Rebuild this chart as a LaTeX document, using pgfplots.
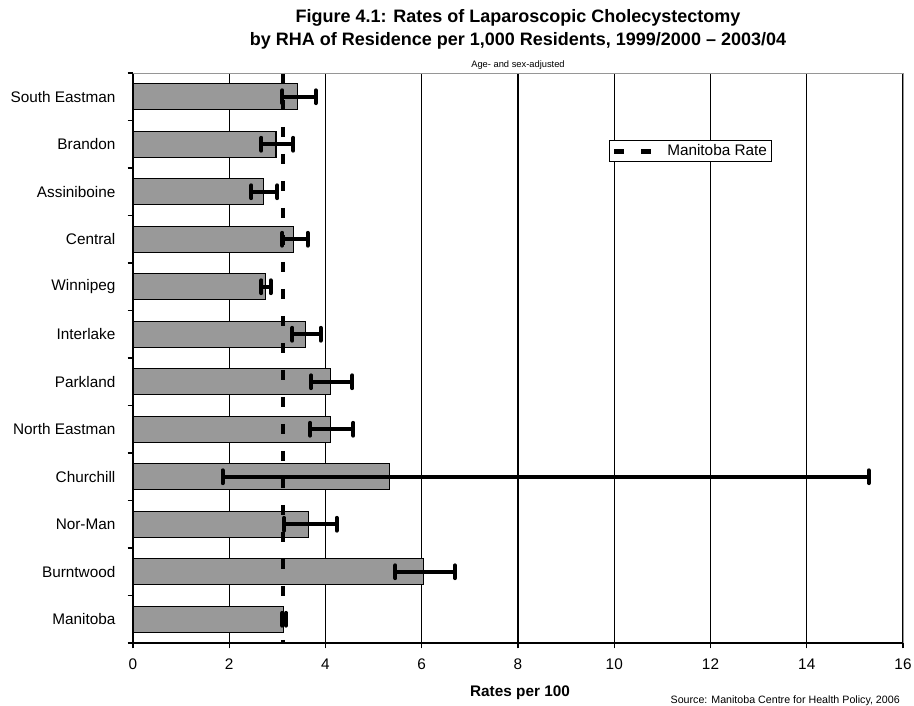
\documentclass[border=0pt]{standalone}
\usepackage{fontspec}
\setmainfont{Liberation Sans}
\usepackage{pgfplots}
\pgfplotsset{compat=1.18}
\usepackage{pgfplotstable}
\definecolor{bargray}{RGB}{153,153,153}
\definecolor{framegray}{RGB}{150,150,150}

\pgfplotstableread{
y x em ep
11 3.41 0.31 0.39
10 2.97 0.30 0.36
9 2.72 0.26 0.28
8 3.34 0.24 0.29
7 2.76 0.09 0.10
6 3.59 0.28 0.31
5 4.11 0.41 0.45
4 4.10 0.42 0.48
3 5.33 3.47 9.96
2 3.65 0.51 0.58
1 6.04 0.59 0.65
0 3.13 0.03 0.05
}\rates

\begin{document}
\begin{tikzpicture}
\begin{axis}[
  scale only axis, width=577.5pt, height=427.5pt,
  xmin=0, xmax=16, ymin=-0.5, ymax=11.5,
  clip=false,
  xtick={0,2,...,16}, ytick={0,...,11},
  yticklabels={Manitoba, Burntwood, Nor-Man, Churchill, North Eastman, Parkland, Interlake, Winnipeg, Central, Assiniboine, Brandon, South Eastman},
  minor ytick={-0.5,0.5,...,11.5},
  xmajorgrids, grid style={black, line width=0.8pt},
  axis x line*=bottom, axis y line*=left,
  axis line style={black, line width=1pt, -},
  tick align=outside,
  major tick length=4pt, minor tick length=4pt,
  major y tick style={draw=none},
  minor y tick style={black, line width=0.8pt},
  major x tick style={black, line width=0.8pt},
  /pgf/number format/assume math mode=true,
  tick label style={font=\fontsize{11.5}{13}\selectfont},
  yticklabel style={inner sep=0pt, anchor=east, xshift=-9pt},
  xticklabel style={inner sep=0pt, anchor=north, yshift=-8pt},
  legend style={at={(rel axis cs:0.618,0.882)}, anchor=north west, draw=black, line width=0.6pt, fill=white,
    font=\fontsize{11.5}{13}\selectfont, inner xsep=2pt, inner ysep=2pt,
    nodes={inner sep=1pt}},
  legend image code/.code={\draw[#1] (0pt,0pt) -- (28pt,0pt); \path (37pt,0pt);},
]
\addplot[xbar, bar width=0.55, fill=bargray, draw=black, line width=0.9pt, forget plot,
  error bars/.cd, x dir=both, x explicit,
  error mark=|,
  error bar style={line width=3pt, black},
  error mark options={line width=3pt, mark size=4.8pt, black, line cap=round}]
  table[x=x, y=y, x error minus=em, x error plus=ep]{\rates};
\addplot[black, line width=3.5pt, dash pattern=on 7.5pt off 12.75pt] coordinates {(3.12,11.5) (3.12,-0.5)};
\addlegendentry{Manitoba Rate}
\draw[framegray, line width=0.6pt] (rel axis cs:0,1) -- (rel axis cs:1,1) -- (rel axis cs:1,0);
\end{axis}
\node[anchor=base, font=\bfseries\fontsize{13.5}{16}\selectfont] at ([yshift=37.5pt]current axis.north) {Figure 4.1: Rates of Laparoscopic Cholecystectomy};
\node[anchor=base, font=\bfseries\fontsize{13.5}{16}\selectfont] at ([yshift=20.25pt]current axis.north) {by RHA of Residence per 1,000 Residents, 1999/2000 -- 2003/04};
\node[anchor=base, font=\fontsize{7}{8}\selectfont] at ([yshift=3.75pt]current axis.north) {Age- and sex-adjusted};
\node[anchor=base, font=\bfseries\fontsize{11.5}{13}\selectfont] at ([yshift=-40.5pt,xshift=1.5pt]current axis.south) {Rates per 100};
\node[anchor=base east, font=\fontsize{8}{9}\selectfont, inner sep=0pt] at ([yshift=-45.75pt,xshift=-2.25pt]current axis.south east) {Source: Manitoba Centre for Health Policy, 2006};
\pgfresetboundingbox
\path ([shift={(-99.75pt,-47.25pt)}]current axis.south west) rectangle ([shift={(8.25pt,54.75pt)}]current axis.north east);
\end{tikzpicture}
\end{document}
